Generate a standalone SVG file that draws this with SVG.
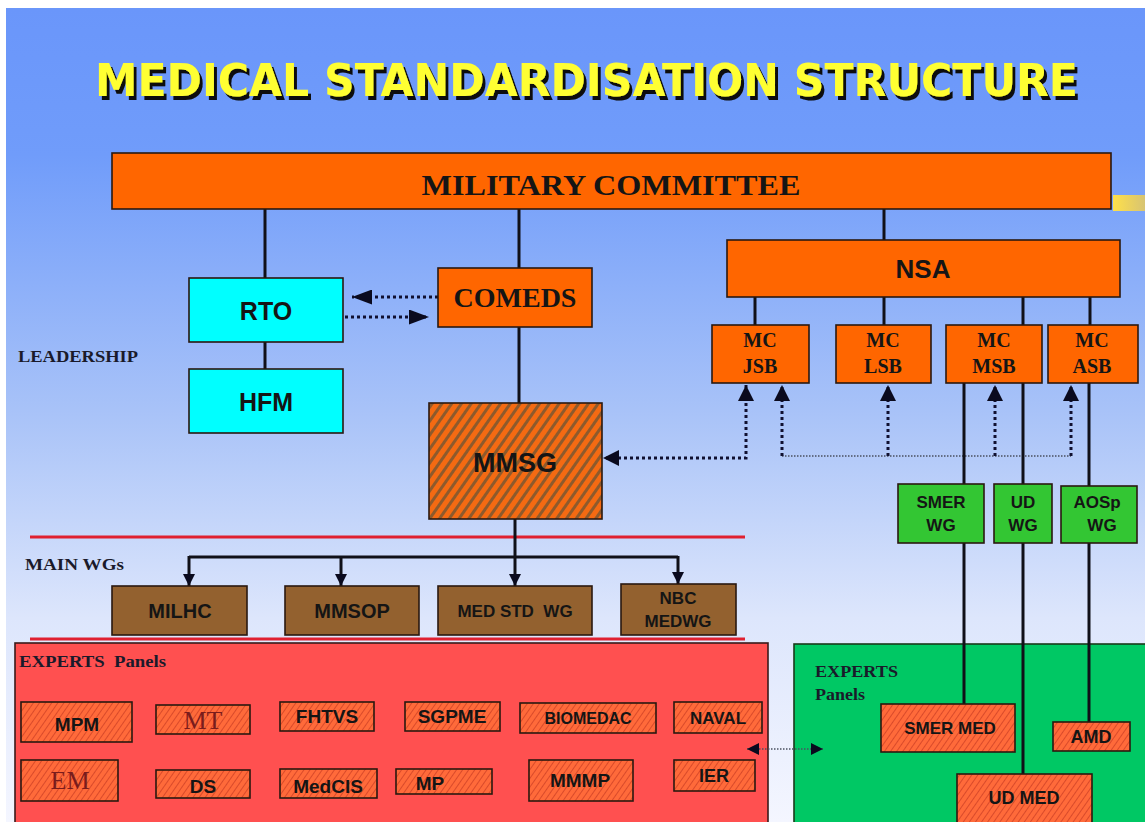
<svg xmlns="http://www.w3.org/2000/svg" width="1145" height="822" viewBox="0 0 1145 822">
<defs>
  <linearGradient id="bg" x1="0" y1="0" x2="0" y2="1">
    <stop offset="0" stop-color="#6a96fa"/>
    <stop offset="0.18" stop-color="#709cfa"/>
    <stop offset="0.5" stop-color="#a9c3f8"/>
    <stop offset="0.75" stop-color="#dde6fc"/>
    <stop offset="1" stop-color="#f4f6ff"/>
  </linearGradient>
  <linearGradient id="smudge" x1="0" y1="0" x2="1" y2="0">
    <stop offset="0" stop-color="#ffe14a"/>
    <stop offset="1" stop-color="#ffd23a" stop-opacity="0.7"/>
  </linearGradient>
  <filter id="shadow" x="-5%" y="-20%" width="110%" height="150%">
    <feDropShadow dx="3" dy="4" stdDeviation="0.6" flood-color="#111111" flood-opacity="1"/>
  </filter>
  <pattern id="hatchBig" patternUnits="userSpaceOnUse" width="8" height="8" patternTransform="rotate(35)">
    <rect width="8" height="8" fill="#f46a12"/>
    <rect width="3" height="8" fill="#8e5a2c"/>
  </pattern>
  <pattern id="hatchSmall" patternUnits="userSpaceOnUse" width="5" height="5" patternTransform="rotate(35)">
    <rect width="5" height="5" fill="#ff6a3a"/>
    <rect width="1" height="5" fill="#d94a2a"/>
  </pattern>
  <marker id="ahBig" viewBox="0 0 10 10" refX="10" refY="5" markerWidth="16" markerHeight="16" markerUnits="userSpaceOnUse" orient="auto-start-reverse" preserveAspectRatio="none">
    <path d="M0,0 L10,5 L0,10 z" fill="#0a0a1e"/>
  </marker>
  <marker id="ahLong" viewBox="0 0 10 10" refX="10" refY="5" markerWidth="20" markerHeight="15" markerUnits="userSpaceOnUse" orient="auto-start-reverse" preserveAspectRatio="none">
    <path d="M0,0 L10,5 L0,10 z" fill="#0a0a1e"/>
  </marker>
  <marker id="ahSmall" viewBox="0 0 10 10" refX="10" refY="5" markerWidth="12" markerHeight="12" markerUnits="userSpaceOnUse" orient="auto-start-reverse" preserveAspectRatio="none">
    <path d="M0,0 L10,5 L0,10 z" fill="#0a0a1e"/>
  </marker>
</defs>
<style>
  .box{stroke:#2a1810;stroke-width:1.6}
  .orange{fill:#ff6600}
  .cyan{fill:#00ffff}
  .brown{fill:#93612f}
  .green{fill:#33c633}
  .hs{fill:url(#hatchSmall)}
  .sans{font-family:"Liberation Sans",Arial,sans-serif;font-weight:bold;fill:#151515;text-anchor:middle}
  .serif{font-family:"Liberation Serif","Times New Roman",serif;font-weight:bold;fill:#151515;text-anchor:middle}
  .reg{font-family:"Liberation Serif","Times New Roman",serif;font-weight:normal;fill:#7a1c1c;text-anchor:middle}
  .lbl{font-family:"Liberation Serif","Times New Roman",serif;font-weight:bold;fill:#1a1a2a}
  .line{stroke:#101018;stroke-width:3;fill:none}
  .dots{stroke:#101030;stroke-width:3;stroke-dasharray:3 3;fill:none}
  .thin{stroke:#4a5060;stroke-width:1.4;stroke-dasharray:1.5 1.5;fill:none}
  .divider{stroke:#e02030;stroke-width:3}
</style>

<rect width="1145" height="822" fill="#ffffff"/>
<rect x="6" y="8" width="1139" height="814" fill="url(#bg)"/>
<rect x="1113" y="195" width="32" height="16" fill="url(#smudge)"/>

<g id="title">
  <text x="95" y="96" font-family="DejaVu Sans, sans-serif" font-weight="bold" font-size="44" textLength="983" lengthAdjust="spacingAndGlyphs" fill="#ffff33" filter="url(#shadow)">MEDICAL STANDARDISATION STRUCTURE</text>
</g>

<g id="dividers">
  <line class="divider" x1="30" y1="537" x2="745" y2="537"/>
  <line class="divider" x1="30" y1="639" x2="745" y2="639"/>
</g>

<g id="labels">
  <text class="lbl" x="18" y="362" font-size="17" textLength="120" lengthAdjust="spacingAndGlyphs">LEADERSHIP</text>
  <text class="lbl" x="25" y="570" font-size="17" textLength="99" lengthAdjust="spacingAndGlyphs">MAIN WGs</text>
</g>

<g id="experts-panel-red">
  <rect x="15" y="643" width="753" height="190" fill="#ff5050" stroke="#3a1a1a" stroke-width="1.6"/>
  <text class="lbl" x="19" y="667" font-size="16" textLength="147" lengthAdjust="spacingAndGlyphs" style="white-space:pre">EXPERTS  Panels</text>
</g>
<g id="experts-panel-green">
  <rect x="794" y="644" width="360" height="190" fill="#00c864" stroke="#1a3a1a" stroke-width="1.6"/>
  <text class="lbl" x="815" y="677" font-size="17" textLength="83" lengthAdjust="spacingAndGlyphs" fill="#0a301a">EXPERTS</text>
  <text class="lbl" x="815" y="700" font-size="17" textLength="50" lengthAdjust="spacingAndGlyphs" fill="#0a301a">Panels</text>
</g>

<g id="connectors">
  <line class="line" x1="265" y1="209" x2="265" y2="278"/>
  <line class="line" x1="265" y1="342" x2="265" y2="369"/>
  <line class="line" x1="519" y1="209" x2="519" y2="268"/>
  <line class="line" x1="519" y1="327" x2="519" y2="403"/>
  <line class="line" x1="884" y1="209" x2="884" y2="240"/>
  <line class="line" x1="755" y1="297" x2="755" y2="325"/>
  <line class="line" x1="884" y1="297" x2="884" y2="325"/>
  <line class="line" x1="1023" y1="297" x2="1023" y2="325"/>
  <line class="line" x1="1090" y1="297" x2="1090" y2="325"/>
  <path class="dots" d="M438,297 L352,297" marker-end="url(#ahLong)"/>
  <path class="dots" d="M333,317 L429,317" marker-end="url(#ahLong)"/>
  <path class="dots" d="M746,385 L746,458 L603,458" marker-start="url(#ahBig)" marker-end="url(#ahBig)"/>
  <path class="thin" d="M782,456 L1071,456"/>
  <path class="dots" d="M782,456 L782,385" marker-end="url(#ahBig)"/>
  <path class="dots" d="M888,456 L888,385" marker-end="url(#ahBig)"/>
  <path class="dots" d="M995,456 L995,385" marker-end="url(#ahBig)"/>
  <path class="dots" d="M1071,456 L1071,385" marker-end="url(#ahBig)"/>
  <line class="line" x1="964" y1="383" x2="964" y2="484"/>
  <line class="line" x1="964" y1="543" x2="964" y2="704"/>
  <line class="line" x1="1023" y1="383" x2="1023" y2="484"/>
  <line class="line" x1="1023" y1="543" x2="1023" y2="774"/>
  <line class="line" x1="1089" y1="383" x2="1089" y2="486"/>
  <line class="line" x1="1089" y1="543" x2="1089" y2="722"/>
  <path class="line" d="M515,519 L515,586" marker-end="url(#ahSmall)"/>
  <path class="line" d="M189,557 L678,557"/>
  <path class="line" d="M189,556 L189,586" marker-end="url(#ahSmall)"/>
  <path class="line" d="M341,556 L341,586" marker-end="url(#ahSmall)"/>
  <path class="line" d="M678,556 L678,584" marker-end="url(#ahSmall)"/>
  <path class="thin" d="M747,749 L823,749" marker-start="url(#ahSmall)" marker-end="url(#ahSmall)"/>
</g>

<g id="military-committee">
  <rect class="box orange" x="112" y="153" width="999" height="56"/>
  <text class="serif" x="611" y="195" font-size="30" textLength="379" lengthAdjust="spacingAndGlyphs">MILITARY COMMITTEE</text>
</g>
<g id="rto">
  <rect class="box cyan" x="189" y="278" width="154" height="64"/>
  <text class="sans" x="266" y="320" font-size="25">RTO</text>
</g>
<g id="hfm">
  <rect class="box cyan" x="189" y="369" width="154" height="64"/>
  <text class="sans" x="266" y="411" font-size="25">HFM</text>
</g>
<g id="comeds">
  <rect class="box orange" x="438" y="268" width="154" height="59"/>
  <text class="serif" x="515" y="307" font-size="28">COMEDS</text>
</g>
<g id="nsa">
  <rect class="box orange" x="727" y="240" width="393" height="57"/>
  <text class="sans" x="923" y="278" font-size="26">NSA</text>
</g>
<g id="mc-jsb">
  <rect class="box orange" x="712" y="325" width="97" height="58"/>
  <text class="serif" x="760" y="347" font-size="20">MC</text>
  <text class="serif" x="760" y="373" font-size="20">JSB</text>
</g>
<g id="mc-lsb">
  <rect class="box orange" x="836" y="325" width="95" height="58"/>
  <text class="serif" x="883" y="347" font-size="20">MC</text>
  <text class="serif" x="883" y="373" font-size="20">LSB</text>
</g>
<g id="mc-msb">
  <rect class="box orange" x="946" y="325" width="96" height="58"/>
  <text class="serif" x="994" y="347" font-size="20">MC</text>
  <text class="serif" x="994" y="373" font-size="20">MSB</text>
</g>
<g id="mc-asb">
  <rect class="box orange" x="1048" y="325" width="90" height="58"/>
  <text class="serif" x="1092" y="347" font-size="20">MC</text>
  <text class="serif" x="1092" y="373" font-size="20">ASB</text>
</g>
<g id="mmsg">
  <rect class="box" x="429" y="403" width="173" height="116" fill="url(#hatchBig)"/>
  <text class="sans" x="515" y="472" font-size="27">MMSG</text>
</g>

<g id="milhc">
  <rect class="box brown" x="112" y="586" width="135" height="49"/>
  <text class="sans" x="180" y="618" font-size="20">MILHC</text>
</g>
<g id="mmsop">
  <rect class="box brown" x="285" y="586" width="134" height="49"/>
  <text class="sans" x="352" y="618" font-size="20">MMSOP</text>
</g>
<g id="med-std-wg">
  <rect class="box brown" x="438" y="586" width="154" height="49"/>
  <text class="sans" x="515" y="617" font-size="17" style="white-space:pre">MED STD  WG</text>
</g>
<g id="nbc-medwg">
  <rect class="box brown" x="621" y="584" width="115" height="51"/>
  <text class="sans" x="678" y="604" font-size="17">NBC</text>
  <text class="sans" x="678" y="627" font-size="17">MEDWG</text>
</g>

<g id="smer-wg">
  <rect class="box green" x="898" y="484" width="86" height="59"/>
  <text class="sans" x="941" y="508" font-size="17">SMER</text>
  <text class="sans" x="941" y="531" font-size="17">WG</text>
</g>
<g id="ud-wg">
  <rect class="box green" x="994" y="484" width="58" height="59"/>
  <text class="sans" x="1023" y="508" font-size="17">UD</text>
  <text class="sans" x="1023" y="531" font-size="17">WG</text>
</g>
<g id="aosp-wg">
  <rect class="box green" x="1061" y="486" width="76" height="57"/>
  <text class="sans" x="1097" y="508" font-size="17">AOSp</text>
  <text class="sans" x="1102" y="531" font-size="17">WG</text>
</g>

<g id="mpm"><rect class="box hs" x="21" y="702" width="111" height="40"/><text class="sans" x="77" y="731" font-size="19">MPM</text></g>
<g id="mt"><rect class="box hs" x="156" y="705" width="94" height="29"/><text class="reg" x="203" y="729" font-size="26">MT</text></g>
<g id="fhtvs"><rect class="box hs" x="280" y="702" width="94" height="29"/><text class="sans" x="327" y="723" font-size="19">FHTVS</text></g>
<g id="sgpme"><rect class="box hs" x="405" y="702" width="95" height="29"/><text class="sans" x="452" y="723" font-size="19">SGPME</text></g>
<g id="biomedac"><rect class="box hs" x="520" y="703" width="136" height="30"/><text class="sans" x="588" y="724" font-size="16">BIOMEDAC</text></g>
<g id="naval"><rect class="box hs" x="674" y="702" width="88" height="31"/><text class="sans" x="718" y="724" font-size="17">NAVAL</text></g>
<g id="em"><rect class="box hs" x="21" y="760" width="97" height="41"/><text class="reg" x="70" y="789" font-size="26">EM</text></g>
<g id="ds"><rect class="box hs" x="156" y="770" width="94" height="28"/><text class="sans" x="203" y="793" font-size="19">DS</text></g>
<g id="medcis"><rect class="box hs" x="280" y="769" width="97" height="29"/><text class="sans" x="328" y="793" font-size="19">MedCIS</text></g>
<g id="mp"><rect class="box hs" x="396" y="769" width="96" height="25"/><text class="sans" x="430" y="790" font-size="19">MP</text></g>
<g id="mmmp"><rect class="box hs" x="529" y="760" width="104" height="41"/><text class="sans" x="580" y="787" font-size="19">MMMP</text></g>
<g id="ier"><rect class="box hs" x="674" y="760" width="81" height="31"/><text class="sans" x="714" y="782" font-size="18">IER</text></g>

<g id="smer-med"><rect class="box hs" x="881" y="704" width="134" height="48"/><text class="sans" x="950" y="734" font-size="17">SMER MED</text></g>
<g id="amd"><rect class="box hs" x="1053" y="722" width="77" height="29"/><text class="sans" x="1091" y="743" font-size="18">AMD</text></g>
<g id="ud-med"><rect class="box hs" x="957" y="774" width="135" height="60"/><text class="sans" x="1024" y="804" font-size="18">UD MED</text></g>
</svg>
